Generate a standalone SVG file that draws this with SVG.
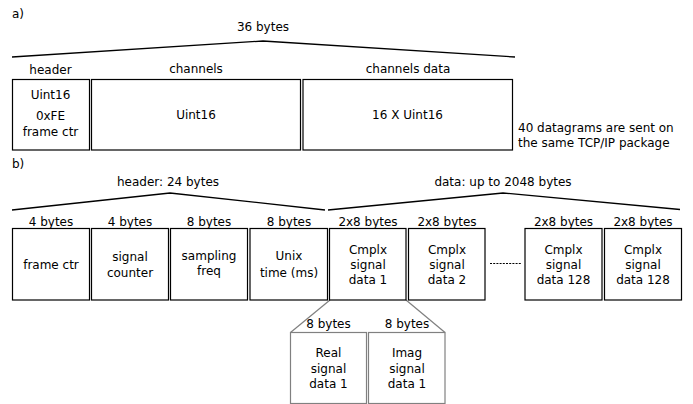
<svg xmlns="http://www.w3.org/2000/svg" width="693" height="404" viewBox="0 0 693 404">
<style>
text{font-family:"DejaVu Sans",sans-serif;font-size:12px;fill:#000;text-anchor:middle}
.l{text-anchor:start}
.box{fill:#fff;stroke:#000;stroke-width:1.2}
.gbox{fill:#fff;stroke:#808080;stroke-width:1.2}
.br{fill:none;stroke:#000;stroke-width:1.3}
.gl{fill:none;stroke:#808080;stroke-width:1.2}
</style>
<rect width="693" height="404" fill="#fff"/>
<text class="l" x="12" y="18">a)</text>
<text x="263" y="31">36 bytes</text>
<g id="connectors">
<polyline class="br" points="12,57 263,41 515,57"/>
<polyline class="br" points="12,210 170,193 325,210"/>
<polyline class="br" points="328,210 503,193 680,209.5"/>
<line x1="490" y1="263.5" x2="522" y2="263.5" stroke="#000" stroke-width="1" stroke-dasharray="2,1.2"/>
<line class="gl" x1="330" y1="300" x2="290.5" y2="332.5"/>
<line class="gl" x1="406" y1="300" x2="445" y2="332.5"/>
</g>
<g id="a_header">
<text x="50.5" y="73.5">header</text>
<rect class="box" x="12.5" y="79.5" width="77" height="70.5"/>
<text x="50.5" y="99">Uint16</text>
<text x="50.5" y="119.5">0xFE</text>
<text x="50.5" y="136">frame ctr</text>
</g>
<g id="a_channels">
<text x="196" y="72.5">channels</text>
<rect class="box" x="91.5" y="79.5" width="209" height="70.5"/>
<text x="196" y="118.5">Uint16</text>
</g>
<g id="a_channels_data">
<text x="408" y="73">channels data</text>
<rect class="box" x="303" y="79.5" width="209.5" height="70.5"/>
<text x="407.5" y="118.5">16 X Uint16</text>
</g>
<g id="a_note">
<text class="l" x="518" y="132">40 datagrams are sent on</text>
<text class="l" x="518" y="147">the same TCP/IP package</text>
</g>
<text class="l" x="12" y="168">b)</text>
<text x="168" y="186">header: 24 bytes</text>
<text x="503" y="186">data: up to 2048 bytes</text>
<g id="b_frame_ctr">
<text x="51" y="226">4 bytes</text>
<rect class="box" x="12.5" y="228.5" width="77" height="71.5"/>
<text x="51" y="269">frame ctr</text>
</g>
<g id="b_signal_counter">
<text x="130" y="226">4 bytes</text>
<rect class="box" x="91.5" y="228.5" width="77" height="71.5"/>
<text x="130" y="261">signal</text>
<text x="130" y="276.5">counter</text>
</g>
<g id="b_sampling_freq">
<text x="209" y="226">8 bytes</text>
<rect class="box" x="170.5" y="228.5" width="77" height="71.5"/>
<text x="209" y="259.5">sampling</text>
<text x="209" y="274.5">freq</text>
</g>
<g id="b_unix_time">
<text x="289" y="226">8 bytes</text>
<rect class="box" x="250" y="228.5" width="77.5" height="71.5"/>
<text x="289" y="260">Unix</text>
<text x="289" y="276.5">time (ms)</text>
</g>
<g id="b_cmplx1">
<text x="368" y="226">2x8 bytes</text>
<rect class="box" x="329.5" y="228.5" width="76.5" height="71.5"/>
<text x="368" y="253.5">Cmplx</text>
<text x="368" y="268.5">signal</text>
<text x="368" y="283.5">data 1</text>
</g>
<g id="b_cmplx2">
<text x="447" y="226">2x8 bytes</text>
<rect class="box" x="408.5" y="228.5" width="76.5" height="71.5"/>
<text x="447" y="253.5">Cmplx</text>
<text x="447" y="268.5">signal</text>
<text x="447" y="283.5">data 2</text>
</g>
<g id="b_cmplx128a">
<text x="563.5" y="226">2x8 bytes</text>
<rect class="box" x="525" y="228.5" width="77" height="71.5"/>
<text x="563.5" y="253.5">Cmplx</text>
<text x="563.5" y="268.5">signal</text>
<text x="563.5" y="283.5">data 128</text>
</g>
<g id="b_cmplx128b">
<text x="643" y="226">2x8 bytes</text>
<rect class="box" x="604.5" y="228.5" width="77" height="71.5"/>
<text x="643" y="253.5">Cmplx</text>
<text x="643" y="268.5">signal</text>
<text x="643" y="283.5">data 128</text>
</g>
<g id="b_real">
<text x="328.5" y="328">8 bytes</text>
<rect class="gbox" x="290.5" y="332.5" width="76" height="71"/>
<text x="328.5" y="357">Real</text>
<text x="328.5" y="372.5">signal</text>
<text x="328.5" y="388">data 1</text>
</g>
<g id="b_imag">
<text x="407" y="328">8 bytes</text>
<rect class="gbox" x="368.5" y="332.5" width="76.5" height="71"/>
<text x="407" y="357">Imag</text>
<text x="407" y="372.5">signal</text>
<text x="407" y="388">data 1</text>
</g>
</svg>
